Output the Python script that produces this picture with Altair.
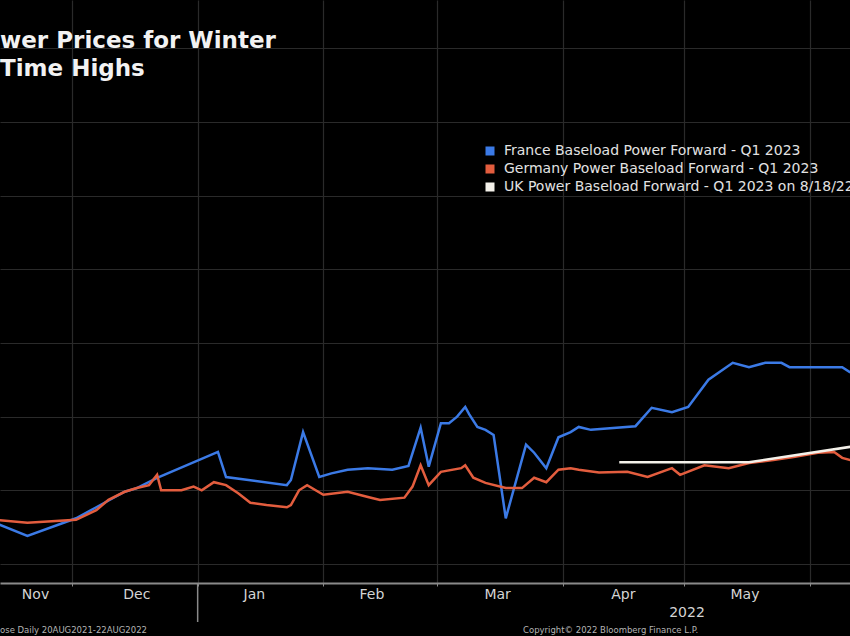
import altair as alt
import pandas as pd

title_lines = ["wer Prices for Winter", "Time Highs"]

series_names = [
    "France Baseload Power Forward - Q1 2023",
    "Germany Power Baseload Forward - Q1 2023",
    "UK Power Baseload Forward - Q1 2023 on 8/18/22",
]
series_colors = ["#3b7ae6", "#e35d3e", "#f4f1ea"]

france_dates = [
    "2021-11-12", "2021-11-20", "2021-12-02", "2021-12-07", "2021-12-14", "2021-12-17",
    "2021-12-22", "2022-01-06", "2022-01-08", "2022-01-23", "2022-01-24", "2022-01-27",
    "2022-01-31", "2022-02-03", "2022-02-07", "2022-02-12", "2022-02-18", "2022-02-22",
    "2022-02-25", "2022-02-27", "2022-03-02", "2022-03-04", "2022-03-06", "2022-03-08",
    "2022-03-09", "2022-03-11", "2022-03-13", "2022-03-15", "2022-03-18", "2022-03-23",
    "2022-03-25", "2022-03-28", "2022-03-31", "2022-04-03", "2022-04-05", "2022-04-08",
    "2022-04-19", "2022-04-23", "2022-04-28", "2022-05-02", "2022-05-07", "2022-05-13",
    "2022-05-17", "2022-05-21", "2022-05-25", "2022-05-27", "2022-06-09", "2022-06-11",
]
france_values = [
    156, 138, 162, 177, 198, 203,
    217, 252, 218, 207, 214, 279,
    218, 223, 228, 230, 228, 233,
    285, 232, 291, 291, 300, 313,
    303, 286, 282, 275, 162, 262,
    251, 230, 272, 279, 286, 282,
    287, 312, 306, 313, 350, 373,
    367, 373, 373, 367, 367, 360,
]

germany_dates = [
    "2021-11-12", "2021-11-20", "2021-12-02", "2021-12-07", "2021-12-10", "2021-12-14",
    "2021-12-17", "2021-12-20", "2021-12-22", "2021-12-23", "2021-12-28", "2021-12-31",
    "2022-01-02", "2022-01-05", "2022-01-08", "2022-01-11", "2022-01-14", "2022-01-18",
    "2022-01-23", "2022-01-24", "2022-01-26", "2022-01-28", "2022-02-01", "2022-02-07",
    "2022-02-12", "2022-02-15", "2022-02-21", "2022-02-23", "2022-02-25", "2022-02-27",
    "2022-03-02", "2022-03-07", "2022-03-08", "2022-03-10", "2022-03-13", "2022-03-18",
    "2022-03-22", "2022-03-25", "2022-03-28", "2022-03-31", "2022-04-03", "2022-04-05",
    "2022-04-10", "2022-04-17", "2022-04-22", "2022-04-28", "2022-04-30", "2022-05-06",
    "2022-05-12", "2022-05-17", "2022-05-23", "2022-05-28", "2022-06-03", "2022-06-07",
    "2022-06-09", "2022-06-11",
]
germany_values = [
    160, 156, 160, 173, 187, 198,
    203, 207, 221, 200, 200, 205,
    200, 211, 207, 196, 183, 180,
    177, 180, 200, 207, 194, 198,
    191, 187, 190, 205, 234, 207,
    225, 230, 234, 217, 210, 203,
    203, 217, 211, 228, 230, 228,
    224, 225, 218, 230, 221, 234,
    230, 237, 241, 245, 251, 252,
    244, 241,
]

uk_dates = ["2022-04-15", "2022-05-17", "2022-06-11"]
uk_values = [238, 238, 259]

grid_months = ["2021-12-01", "2022-01-01", "2022-02-01", "2022-03-01",
               "2022-04-01", "2022-05-01", "2022-06-01"]
y_grid_values = [100, 200, 300, 400, 500, 600, 700, 800]

month_labels = ["Nov", "Dec", "Jan", "Feb", "Mar", "Apr", "May"]
month_label_dates = ["2021-11-22", "2021-12-17", "2022-01-15", "2022-02-13",
                     "2022-03-16", "2022-04-16", "2022-05-16"]
year_break = ["2022-01-01"]
year_label = "2022"
footnote_left = "ose  Daily 20AUG2021-22AUG2022"
footnote_right = "Copyright\u00a9 2022 Bloomberg Finance L.P."

rows = []
for name, ds, vs in zip(series_names, [france_dates, germany_dates, uk_dates],
                        [france_values, germany_values, uk_values]):
    for d, v in zip(ds, vs):
        rows.append({"date": d, "value": v, "series": name})
df = pd.DataFrame(rows)

x_scale = alt.Scale(domain=["2021-11-13T05:48:00", "2022-06-10T22:00:00"])
y_scale = alt.Scale(domain=[74.2, 865.3], nice=False, zero=False)

grid_vals = [alt.DateTime(year=int(s[:4]), month=int(s[5:7]), date=int(s[8:10])) for s in grid_months]

lines = alt.Chart(df).mark_line(strokeWidth=2.5, clip=True).encode(
    x=alt.X("date:T", scale=x_scale,
            axis=alt.Axis(values=grid_vals, grid=True, gridColor="#2a2a2a", gridWidth=1.2,
                          labels=False, ticks=True, tickColor="#8a8a8a", tickSize=3,
                          domainColor="#8a8a8a", domainWidth=2, title=None)),
    y=alt.Y("value:Q", scale=y_scale,
            axis=alt.Axis(values=y_grid_values, grid=True, gridColor="#2a2a2a", gridWidth=1.2,
                          labels=False, ticks=False, domain=False, title=None)),
    color=alt.Color("series:N",
                    scale=alt.Scale(domain=series_names, range=series_colors),
                    legend=alt.Legend(title=None, orient="none", legendX=483, legendY=144,
                                      direction="vertical", symbolType="square",
                                      symbolSize=16, symbolStrokeWidth=5,
                                      labelFont="DejaVu Sans", labelFontSize=14,
                                      labelColor="#e2e2e2", labelLimit=700,
                                      clipHeight=14, rowPadding=4, labelOffset=7, padding=0)),
)


def label(txt, x, y, **kw):
    return alt.Chart(pd.DataFrame({"t": [txt]})).mark_text(**kw).encode(
        x=alt.value(x), y=alt.value(y), text="t:N")


title1 = label(title_lines[0], 0, 48, align="left", baseline="alphabetic", font="DejaVu Sans",
               fontWeight="bold", fontSize=23, color="#f2f2f2")
title2 = label(title_lines[1], 0, 76, align="left", baseline="alphabetic", font="DejaVu Sans",
               fontWeight="bold", fontSize=23, color="#f2f2f2")

months = alt.Chart(pd.DataFrame({"date": month_label_dates, "m": month_labels})).mark_text(
    font="DejaVu Sans", fontSize=14, color="#d4d4d4", baseline="alphabetic", align="center"
).encode(x=alt.X("date:T"), y=alt.value(599), text="m:N")

sep = alt.Chart(pd.DataFrame({"date": year_break})).mark_rule(color="#8a8a8a", strokeWidth=1.5).encode(
    x=alt.X("date:T"), y=alt.value(583), y2=alt.value(622))

year = label(year_label, 687, 617, align="center", baseline="alphabetic", font="DejaVu Sans",
             fontSize=14, color="#d4d4d4")
foot1 = label(footnote_left, 0, 633, align="left", baseline="alphabetic", font="DejaVu Sans",
              fontSize=8.5, color="#b4b4b4")
foot2 = label(footnote_right, 523, 633, align="left", baseline="alphabetic", font="DejaVu Sans",
              fontSize=8.5, color="#b4b4b4")

chart = alt.layer(lines, months, sep, title1, title2, year, foot1, foot2).properties(
    width=850, height=583, background="#000000",
    padding={"left": 0, "top": 0, "right": 0, "bottom": 53},
    autosize=alt.AutoSizeParams(type="none"),
).configure_view(stroke=None)

chart.save("out.html", embed_options={"renderer": "svg", "actions": False})
